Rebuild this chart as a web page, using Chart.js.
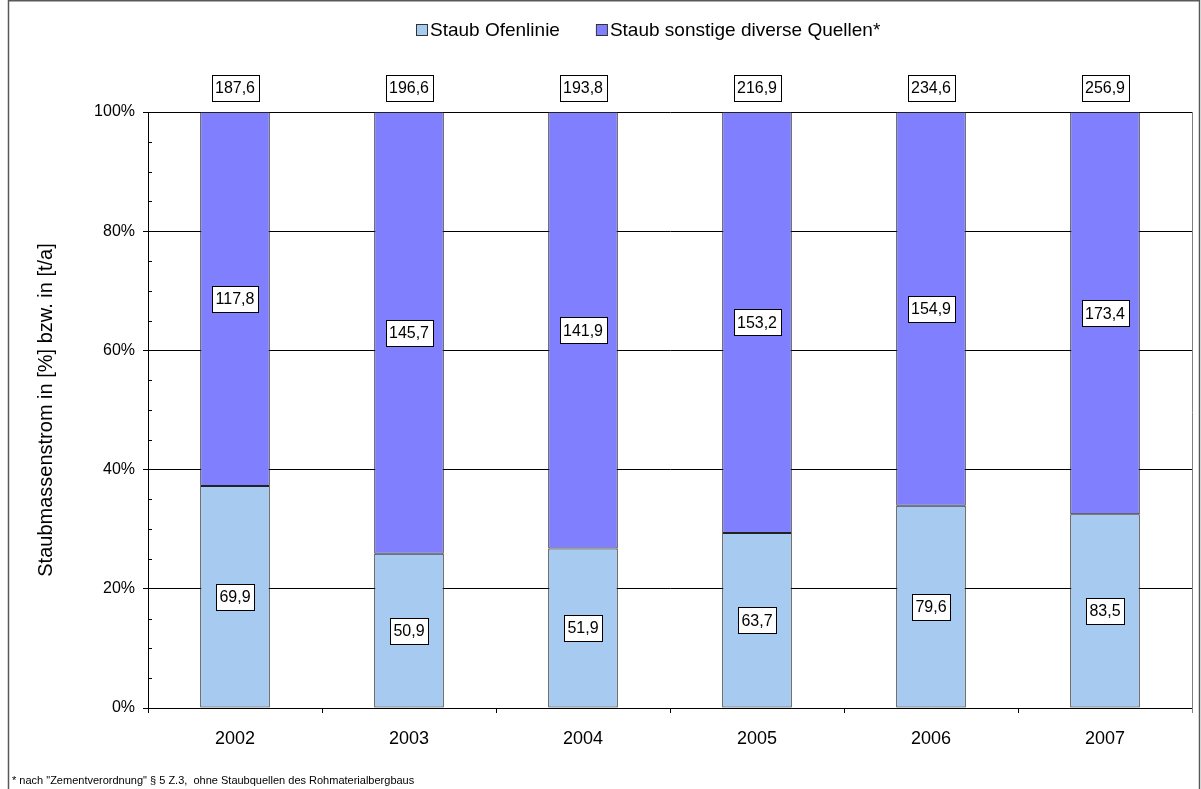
<!DOCTYPE html>
<html>
<head>
<meta charset="utf-8">
<script src="https://cdn.jsdelivr.net/npm/chart.js@4/dist/chart.umd.min.js"></script>
<style>
  html, body { margin: 0; padding: 0; background: #fff; }
  #c { display: block; }
</style>
</head>
<body>
<canvas id="c" width="1201" height="789"></canvas>
<script>
// Werte aus der Grafik (t/a)
const years = ['2002', '2003', '2004', '2005', '2006', '2007'];
const staubOfenlinie = [69.9, 50.9, 51.9, 63.7, 79.6, 83.5];
const staubSonstige = [117.8, 145.7, 141.9, 153.2, 154.9, 173.4];
const summen = [187.6, 196.6, 193.8, 216.9, 234.6, 256.9];
const yTicks = [0, 20, 40, 60, 80, 100];

const FONT = "'Liberation Sans', Arial, sans-serif";
const fmt = v => v.toFixed(1).replace('.', ',');

// 100%-Anteile aus den absoluten Werten
const anteilOfen = staubOfenlinie.map((v, i) => v / (v + staubSonstige[i]) * 100);
const anteilSonst = staubSonstige.map((v, i) => v / (staubOfenlinie[i] + v) * 100);

function labelBox(ctx, text, x, y) {
  ctx.font = `16px ${FONT}`;
  const w = Math.round(ctx.measureText(text).width) + 7;
  const h = 26;
  const bx = Math.round(x - w / 2) + 0.5;
  const by = Math.round(y - h / 2) + 0.5;
  ctx.fillStyle = '#fff';
  ctx.fillRect(bx, by, w, h);
  ctx.strokeStyle = '#000';
  ctx.lineWidth = 1;
  ctx.strokeRect(bx, by, w, h);
  ctx.fillStyle = '#000';
  ctx.textAlign = 'center';
  ctx.textBaseline = 'middle';
  ctx.fillText(text, x, y + 1);
}

const extras = {
  id: 'extras',
  beforeDraw(chart) {
    const { ctx } = chart;
    ctx.save();
    ctx.fillStyle = '#fff';
    ctx.fillRect(0, 0, chart.width, chart.height);
    ctx.restore();
  },
  afterDraw(chart) {
    const { ctx, chartArea: a } = chart;
    const yScale = chart.scales.y;
    ctx.save();

    // rechter Rand der Zeichenfläche
    ctx.strokeStyle = '#808080';
    ctx.lineWidth = 1;
    ctx.beginPath();
    ctx.moveTo(Math.round(a.right) + 0.5, a.top);
    ctx.lineTo(Math.round(a.right) + 0.5, a.bottom + 5);
    ctx.stroke();

    // Hilfsstriche alle 5 %
    ctx.strokeStyle = '#000';
    ctx.beginPath();
    for (let v = 5; v < 100; v += 5) {
      if (v % 20 === 0) continue;
      const py = Math.round(yScale.getPixelForValue(v)) + 0.5;
      ctx.moveTo(a.left, py);
      ctx.lineTo(a.left + 4, py);
    }
    ctx.stroke();

    // Segment- und Summenbeschriftungen
    const m0 = chart.getDatasetMeta(0);
    const m1 = chart.getDatasetMeta(1);
    years.forEach((_, i) => {
      const b0 = m0.data[i];
      const b1 = m1.data[i];
      labelBox(ctx, fmt(staubOfenlinie[i]), b0.x, (b0.y + b0.base) / 2);
      labelBox(ctx, fmt(staubSonstige[i]), b1.x, (b1.y + b1.base) / 2);
      labelBox(ctx, fmt(summen[i]), b1.x, b1.y - 24);
    });

    // Legende
    ctx.font = `19px ${FONT}`;
    ctx.textAlign = 'left';
    ctx.textBaseline = 'middle';
    let lx = 416;
    const ly = 30;
    chart.data.datasets.forEach(ds => {
      ctx.fillStyle = ds.backgroundColor;
      ctx.fillRect(lx + 0.5, ly - 5.5, 11, 11);
      ctx.strokeStyle = '#333';
      ctx.strokeRect(lx + 0.5, ly - 5.5, 11, 11);
      ctx.fillStyle = '#000';
      ctx.fillText(ds.label, lx + 14, ly + 1);
      lx += 14 + ctx.measureText(ds.label).width + 36;
    });

    // Fußnote
    ctx.font = `11px ${FONT}`;
    ctx.fillText('* nach "Zementverordnung" § 5 Z.3,  ohne Staubquellen des Rohmaterialbergbaus', 12, 781);

    // Rahmen
    ctx.strokeStyle = '#595959';
    ctx.lineWidth = 1.5;
    ctx.strokeRect(8.5, 0.75, 1191, 800);
    ctx.restore();
  }
};

new Chart(document.getElementById('c'), {
  type: 'bar',
  data: {
    labels: years,
    datasets: [
      {
        label: 'Staub Ofenlinie',
        data: anteilOfen,
        backgroundColor: '#A6CAF0',
        borderColor: '#222',
        borderWidth: 1,
        borderSkipped: false,
      },
      {
        label: 'Staub sonstige diverse Quellen*',
        data: anteilSonst,
        backgroundColor: '#8080FF',
        borderColor: '#222',
        borderWidth: 1,
        borderSkipped: false,
      },
    ],
  },
  options: {
    responsive: false,
    animation: false,
    devicePixelRatio: 1,
    layout: { padding: { left: 0, right: 9, top: 112, bottom: 0 } },
    datasets: { bar: { barPercentage: 0.4, categoryPercentage: 1 } },
    plugins: {
      legend: { display: false },
      tooltip: { enabled: false },
    },
    scales: {
      x: {
        stacked: true,
        afterFit: s => { s.height = 81; },
        grid: { offset: true, drawOnChartArea: false, drawTicks: true, tickLength: 5, color: '#000' },
        border: { display: true, color: '#000', width: 1 },
        ticks: { color: '#000', font: { family: FONT, size: 18 }, padding: 15 },
      },
      y: {
        stacked: true,
        min: 0,
        max: 100,
        afterFit: s => { s.width = 148; },
        afterBuildTicks: s => { s.ticks = yTicks.map(v => ({ value: v })); },
        grid: { color: '#000', lineWidth: 1, tickLength: 5 },
        border: { display: true, color: '#000', width: 1 },
        ticks: {
          color: '#000',
          font: { family: FONT, size: 16 },
          padding: 8,
          callback: v => v + '%',
        },
        title: {
          display: true,
          text: 'Staubmassenstrom in [%] bzw. in [t/a]',
          color: '#000',
          font: { family: FONT, size: 20 },
          padding: { top: 34, bottom: 0 },
        },
      },
    },
  },
  plugins: [extras],
});
</script>
</body>
</html>
